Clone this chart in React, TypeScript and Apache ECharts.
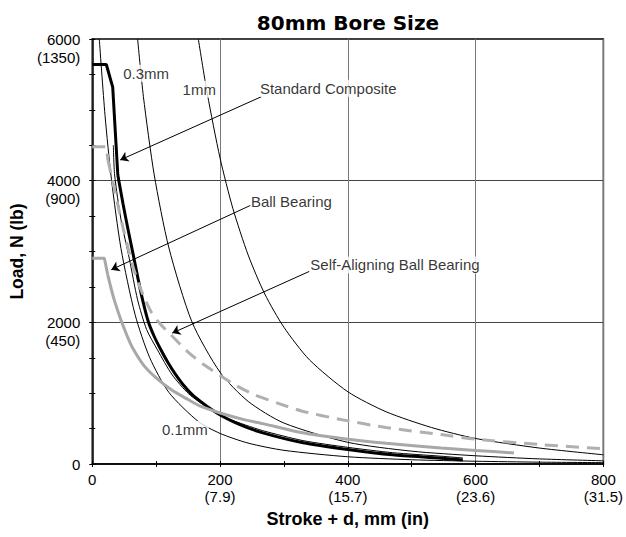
import React, { useEffect, useRef } from 'react';
import * as echarts from 'echarts';

const FONT = '"Liberation Sans", Arial, Helvetica, sans-serif';

// Axis ticks
const xTicks = [0, 200, 400, 600, 800];
const xInches = ['', '(7.9)', '(15.7)', '(23.6)', '(31.5)'];
const yTicks = [0, 2000, 4000, 6000];
const yPounds = ['', '(450)', '(900)', '(1350)'];

// Deflection curves (Load N vs Stroke + d mm)
const defl01: number[][] = [[11, 6000], [20, 4920], [30, 4020], [45, 3040], [67, 2110], [90, 1500], [120, 1010], [166, 600], [200, 432], [244, 295], [300, 193], [400, 102], [500, 60], [600, 39], [700, 26], [800, 19]];
const defl03: number[][] = [[71, 6000], [80, 5190], [97, 4080], [120, 3050], [156, 2007], [200, 1295], [244, 884], [300, 578], [400, 306], [500, 181], [600, 116], [700, 72], [800, 45]];
const defl1: number[][] = [[166, 6000], [180, 5230], [200, 4320], [220, 3610], [244, 2950], [270, 2400], [300, 1930], [340, 1470], [400, 1020], [460, 737], [531, 515], [600, 360], [700, 225], [800, 130]];

// Unlabelled thin curve running beside Standard Composite
const thinCompanion: number[][] = [[33, 4500], [35, 4080], [45, 3450], [58, 2900], [71, 2317], [85, 1900], [102, 1612], [125, 1260], [151, 990], [180, 800], [210, 650], [240, 550], [267, 470], [330, 330], [400, 235], [470, 160], [546, 110], [580, 85]];

// Bearing load curves (first points = flat cap and knee)
const standardComposite: number[][] = [[0, 5640], [22, 5640], [32, 5320], [40, 4080], [48, 3680], [56, 3310], [64, 2960], [72, 2600], [80, 2270], [88, 2000], [97, 1800], [107, 1620], [118, 1440], [130, 1270], [145, 1090], [160, 950], [195, 720], [231, 555], [267, 440], [330, 300], [400, 205], [470, 130], [546, 82], [580, 55]];
const ballBearing: number[][] = [[0, 2905], [19, 2905], [24, 2680], [30, 2460], [35, 2300], [45, 2030], [55, 1800], [63, 1640], [80, 1400], [100, 1215], [125, 1040], [150, 910], [170, 812], [200, 720], [236, 630], [267, 570], [329, 440], [391, 360], [460, 292], [546, 226], [600, 192], [660, 155]];
const selfAligning: number[][] = [[0, 4480], [22, 4480], [24.5, 4290], [31, 4030], [40, 3660], [48, 3340], [56, 3050], [64, 2780], [72, 2560], [80, 2380], [92, 2150], [106, 1980], [123, 1825], [150, 1580], [175, 1400], [200, 1250], [223, 1120], [252, 985], [290, 860], [329, 745], [391, 625], [460, 515], [546, 415], [600, 350], [700, 275], [800, 215]];

// Number of leading points drawn as straight segments (flat cap + knee)
const scKnee = 4;
const bbKnee = 3;
const sabKnee = 3;

// Annotation labels (anchored at left edge, data coords)
const labelNames = ['0.3mm', '1mm', 'Standard Composite', 'Ball Bearing', 'Self-Aligning Ball Bearing'];
const labelPos: number[][] = [[46, 5515], [139, 5289], [260, 5303], [246, 3704], [339, 2811]];
const inlineLabel = '0.1mm';
const inlinePos = [145, 486];

// Arrows: [tail, tip]
const arrowTails: number[][] = [[264.6, 5185], [249.1, 3657], [340, 2720]];
const arrowTips: number[][] = [[43.7, 4292], [29.7, 2743], [125.2, 1848]];

function curve(name: string, data: number[][], color: string, width: number, z: number, type: any = 'solid', smooth: any = 0.25) {
  return {
    name, type: 'line', data, showSymbol: false, symbol: 'none', smooth,
    lineStyle: { color, width, type }, silent: true, z,
  };
}

export default function App() {
  const ref = useRef<HTMLDivElement>(null);
  useEffect(() => {
    const chart = echarts.init(ref.current!, null, { renderer: 'svg' });
    const baseX = {
      type: 'value', min: 0, max: 800, interval: 200, gridIndex: 0, position: 'bottom',
    };
    const baseY = {
      type: 'value', min: 0, max: 6000, interval: 2000, gridIndex: 0, position: 'left',
    };
    const dash = [13, 8];
    const option: any = {
      animation: false,
      backgroundColor: '#fff',
      title: {
        text: '80mm Bore Size', left: 343, top: 8, textAlign: 'center',
        textStyle: { fontFamily: '"DejaVu Sans", sans-serif', fontWeight: 'bold', fontSize: 20, color: '#000' },
      },
      grid: { left: 87, right: 22, top: 39, bottom: 73, show: true, borderColor: '#000', borderWidth: 1.5, backgroundColor: 'transparent' },
      xAxis: [
        {
          ...baseX,
          name: 'Stroke + d, mm (in)', nameLocation: 'middle', nameGap: 42,
          nameTextStyle: { fontFamily: FONT, fontWeight: 'bold', fontSize: 18, color: '#000' },
          axisLine: { show: true, lineStyle: { color: '#000', width: 1.5 } },
          axisTick: { show: true, inside: false, length: 3, lineStyle: { color: '#000', width: 1 } },
          minorTick: { show: true, splitNumber: 2, length: 3, lineStyle: { color: '#000', width: 1 } },
          axisLabel: {
            margin: 7, fontFamily: FONT, fontSize: 15, color: '#000', lineHeight: 17,
            formatter: (v: number) => {
              const i = xTicks.indexOf(v);
              if (i < 0) return '';
              return xInches[i] ? `${v}\n${xInches[i]}` : `${v}`;
            },
          },
          splitLine: { show: true, lineStyle: { color: '#777', width: 1 } },
        },
        {
          ...baseX,
          axisLine: { show: false },
          axisTick: { show: true, inside: true, length: 3, lineStyle: { color: '#000', width: 1 } },
          minorTick: { show: true, splitNumber: 2, length: 3, lineStyle: { color: '#000', width: 1 } },
          axisLabel: { show: false },
          splitLine: { show: false },
        },
      ],
      yAxis: [
        {
          ...baseY,
          name: 'Load, N (lb)', nameLocation: 'middle', nameGap: 55, nameRotate: 90,
          nameTextStyle: { fontFamily: FONT, fontWeight: 'bold', fontSize: 17.5, color: '#000' },
          axisLine: { show: true, lineStyle: { color: '#000', width: 1.5 } },
          axisTick: { show: true, inside: false, length: 3, lineStyle: { color: '#000', width: 1 } },
          minorTick: { show: true, splitNumber: 4, length: 3, lineStyle: { color: '#000', width: 1 } },
          axisLabel: {
            margin: 12, fontFamily: FONT, fontSize: 15, color: '#000', lineHeight: 18, align: 'right',
            formatter: (v: number) => {
              const i = yTicks.indexOf(v);
              if (i < 0) return '';
              return yPounds[i] ? ` \n${v}\n${yPounds[i]}` : `${v}`;
            },
          },
          splitLine: { show: true, lineStyle: { color: '#444', width: 1 } },
        },
        {
          ...baseY,
          axisLine: { show: false },
          axisTick: { show: true, inside: true, length: 3, lineStyle: { color: '#000', width: 1 } },
          minorTick: { show: true, splitNumber: 4, length: 3, lineStyle: { color: '#000', width: 1 } },
          axisLabel: { show: false },
          splitLine: { show: false },
        },
      ],
      series: [
        curve('0.1mm', defl01, '#000', 1, 2),
        curve('0.3mm', defl03, '#000', 1, 2),
        curve('1mm', defl1, '#000', 1, 2),
        curve('companion', thinCompanion, '#000', 1, 2),
        curve('Standard Composite', standardComposite.slice(0, scKnee), '#000', 3, 3, 'solid', false),
        curve('Standard Composite', standardComposite.slice(scKnee - 1), '#000', 3, 3),
        curve('Ball Bearing', ballBearing.slice(0, bbKnee), '#a8a8a8', 3, 4, 'solid', false),
        curve('Ball Bearing', ballBearing.slice(bbKnee - 1), '#a8a8a8', 3, 4),
        curve('Self-Aligning Ball Bearing', selfAligning.slice(0, sabKnee), '#b0b0b0', 3, 4, dash, false),
        curve('Self-Aligning Ball Bearing', selfAligning.slice(sabKnee - 1), '#b0b0b0', 3, 4, dash),
        {
          name: 'annotations', type: 'scatter', symbol: 'circle', symbolSize: 1, silent: true, z: 10,
          itemStyle: { color: 'rgba(0,0,0,0)' },
          label: {
            show: true, formatter: '{b}', position: 'right', distance: 0, fontFamily: FONT, fontSize: 15, color: '#000',
            backgroundColor: '#fff', padding: [1, 1],
          },
          data: [
            ...labelNames.map((n, i) => ({ name: n, value: labelPos[i] })),
            {
              name: inlineLabel, value: inlinePos,
              label: { position: 'inside' },
            },
          ],
          markLine: {
            silent: true, symbol: ['none', 'arrow'], symbolSize: 8, animation: false, z: 9,
            lineStyle: { color: '#000', width: 1, type: 'solid' },
            label: { show: false },
            emphasis: { disabled: true },
            data: arrowTails.map((t, i) => [{ coord: t }, { coord: arrowTips[i] }]),
          },
        },
      ],
    };
    chart.setOption(option);
    return () => chart.dispose();
  }, []);
  return <div ref={ref} style={{ position: 'absolute', left: 0, top: 0, width: 626, height: 537, background: '#fff' }} />;
}
